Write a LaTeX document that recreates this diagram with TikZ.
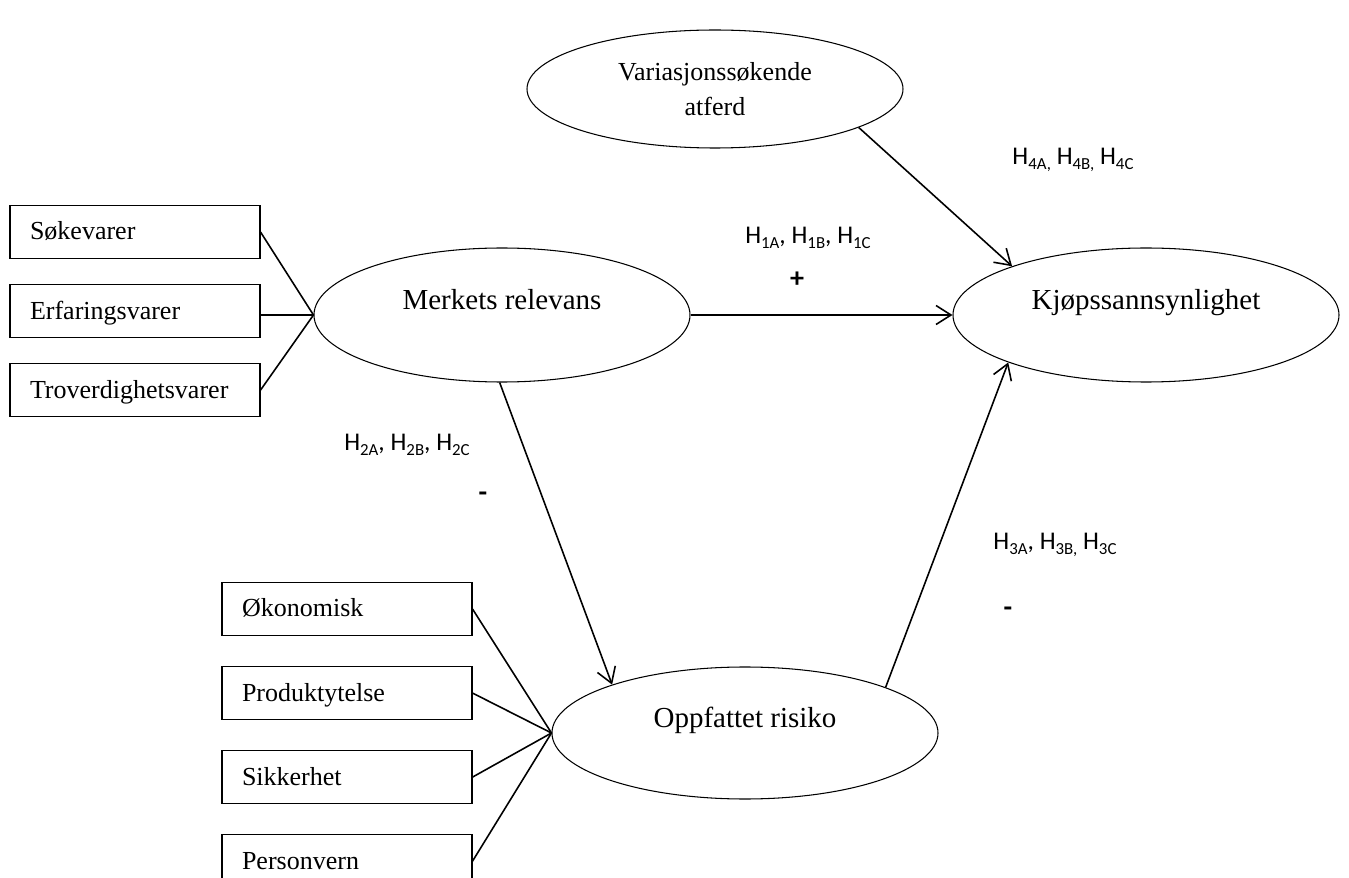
\documentclass[tikz,border=0pt]{standalone}
\usepackage{fontspec}
\setmainfont{Liberation Serif}
\newfontfamily\calibri{Carlito}
\usetikzlibrary{positioning,shapes.geometric,arrows.meta}
\newcommand{\sbs}[1]{\raisebox{-0.22em}{\fontsize{9.6}{10}\selectfont #1}}

\begin{document}
\begin{tikzpicture}[node distance=5mm and 6mm,
construct/.style={ellipse,draw,line width=0.6pt,inner sep=0pt,minimum width=7.52cm,minimum height=2.68cm,font=\fontsize{16.5}{20}\selectfont,text height=0.4cm,text depth=0.62cm},
dim/.style={draw,line width=0.6pt,minimum width=5cm,minimum height=1.06cm,inner sep=0pt,text width=4.2cm,align=left,font=\fontsize{14.8}{18}\selectfont,text height=0.4cm,text depth=0.08cm},
hyp/.style={font=\calibri\fontsize{14.5}{17}\selectfont,inner sep=0pt},
sgn/.style={font=\calibri\bfseries\fontsize{16}{18}\selectfont,inner sep=0pt},
lnk/.style={line width=0.9pt},
arr/.style={-{Straight Barb[length=3mm,width=3.8mm]},line width=0.9pt}]
\useasboundingbox (0,0) rectangle (26.98,-17.56);
% constructs
\node[construct,minimum height=2.36cm,text height=,text depth=,align=center,font=\fontsize{14.8}{19.9}\selectfont] (var) at (14.30,-1.78) {Variasjonssøkende\\atferd};
\node[construct] (merk) at (10.04,-6.30) {Merkets relevans};
\node[construct,minimum width=7.72cm] (kjop) at (22.92,-6.30) {Kjøpssannsynlighet};
\node[construct,minimum width=7.72cm,minimum height=2.64cm] (risk) at (14.90,-14.66) {Oppfattet risiko};
% product types
\node[dim] (sok) at (2.70,-4.64) {Søkevarer};
\node[dim,below=0.5cm of sok] (erf) {Erfaringsvarer};
\node[dim,below=0.5cm of erf] (tro) {Troverdighetsvarer};
% risk dimensions
\node[dim] (oko) at (6.94,-12.18) {Økonomisk};
\node[dim,below=0.6cm of oko] (prod) {Produktytelse};
\node[dim,below=0.6cm of prod] (sik) {Sikkerhet};
\node[dim,below=0.6cm of sik] (pers) {Personvern};
\draw[lnk] (sok.east) -- (merk.west);
\draw[lnk] (merk.west -| erf.east) -- (merk.west);
\draw[lnk] (tro.east) -- (merk.west);
\foreach \n in {oko,prod,sik,pers} \draw[lnk] (\n.east) -- (risk.west);
% hypotheses
\draw[arr] (var.-15.7) -- (kjop.160.7);
\draw[arr] (merk.east) -- (kjop.west);
\draw[arr] (merk.-92.6) -- (risk.160.7);
\draw[arr] (risk.18.6) -- (kjop.-161.2);
\node[hyp] (h4) at (21.46,-3.20) {H\sbs{4A,} H\sbs{4B,} H\sbs{4C}};
\node[hyp] (h1) at (16.16,-4.76) {H\sbs{1A}, H\sbs{1B}, H\sbs{1C}};
\node[sgn] (s1) at (15.94,-5.60) {+};
\node[hyp] (h2) at (8.14,-8.90) {H\sbs{2A}, H\sbs{2B}, H\sbs{2C}};
\node[sgn] (s2) at (9.66,-9.94) {-};
\node[hyp] (h3) at (21.10,-10.90) {H\sbs{3A}, H\sbs{3B,} H\sbs{3C}};
\node[sgn] (s3) at (20.16,-12.24) {-};
\end{tikzpicture}
\end{document}
